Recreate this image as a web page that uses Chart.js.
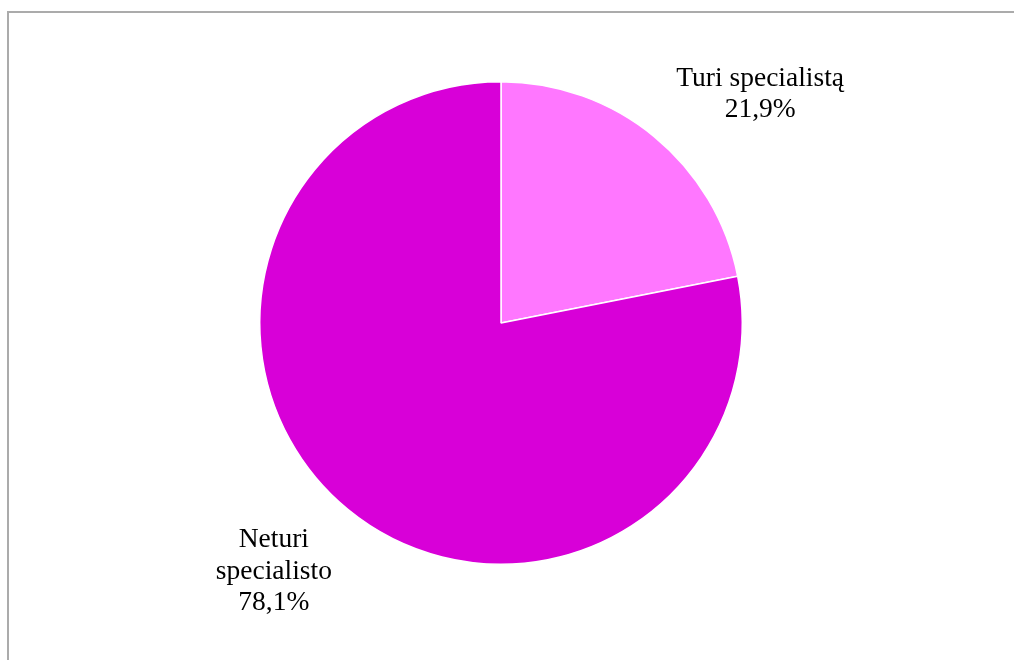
<!DOCTYPE html>
<html>
<head>
<meta charset="utf-8">
<script src="https://cdn.jsdelivr.net/npm/chart.js@4/dist/chart.umd.min.js"></script>
<style>
  html, body { margin: 0; padding: 0; background: #fff; overflow: hidden; }
  #wrap { width: 1014px; height: 660px; position: relative; }
</style>
</head>
<body>
<div id="wrap"><canvas id="chart" width="1014" height="660"></canvas></div>
<script>
const categories = ['Turi specialistą', 'Neturi specialisto']
const shares = [21.9, 78.1]
const labelLines = [['Turi specialistą', '21,9%'], ['Neturi', 'specialisto', '78,1%']]
const sliceColors = ['#ff77ff', '#d800d8']
// nudges of each label block from its slice's mid-angle anchor
const labelNudge = [[60, 5], [-28, -18]]

// light gray frame, only top/left edges show in the picture
const frame = {
  id: 'frame',
  beforeDraw(chart) {
    const ctx = chart.ctx
    ctx.save()
    ctx.strokeStyle = '#ababab'
    ctx.lineWidth = 2
    ctx.strokeRect(8, 12, 1100, 700)
    ctx.restore()
  }
}

const sliceLabels = {
  id: 'sliceLabels',
  afterDatasetsDraw(chart) {
    const ctx = chart.ctx
    const arcs = chart.getDatasetMeta(0).data
    ctx.save()
    ctx.font = '27.5px "Liberation Serif", "Times New Roman", serif'
    ctx.fillStyle = '#000'
    ctx.textAlign = 'center'
    ctx.textBaseline = 'alphabetic'
    arcs.forEach((arc, i) => {
      const mid = (arc.startAngle + arc.endAngle) / 2
      const r = arc.outerRadius * 1.3
      const x = arc.x + Math.cos(mid) * r + labelNudge[i][0]
      const y = arc.y + Math.sin(mid) * r + labelNudge[i][1]
      labelLines[i].forEach((line, j) => {
        ctx.fillText(line, x, y + j * 31.5)
      })
    })
    ctx.restore()
  }
}

new Chart(document.getElementById('chart').getContext('2d'), {
  type: 'pie',
  data: {
    labels: categories,
    datasets: [{
      data: shares,
      backgroundColor: sliceColors,
      borderColor: '#ffffff',
      borderWidth: 1.5
    }]
  },
  options: {
    responsive: false,
    animation: false,
    layout: { padding: { top: 81, bottom: 95, left: 259, right: 271 } },
    plugins: {
      legend: { display: false },
      tooltip: { enabled: false }
    }
  },
  plugins: [frame, sliceLabels]
})
</script>
</body>
</html>
